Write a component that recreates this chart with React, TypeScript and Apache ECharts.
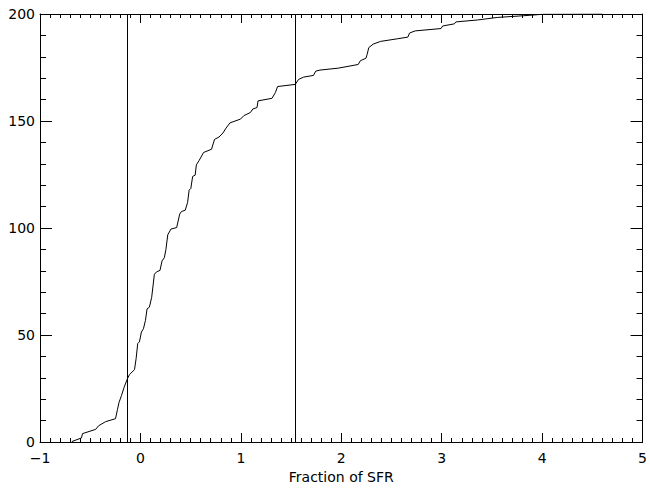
import React, { useEffect, useRef } from "react";
import * as echarts from "echarts";

const xValues = [
  -0.683, -0.587, -0.577, -0.446, -0.416, -0.347, -0.248, -0.228, -0.213, -0.188,
  -0.163, -0.129, -0.109, -0.059, -0.043, -0.027, -0.01, 0.01, 0.03, 0.05,
  0.066, 0.089, 0.112, 0.139, 0.161, 0.195, 0.215, 0.238, 0.254, 0.272,
  0.304, 0.361, 0.391, 0.409, 0.446, 0.47, 0.485, 0.502, 0.52, 0.545,
  0.557, 0.584, 0.629, 0.708, 0.738, 0.782, 0.822, 0.847, 0.891, 0.997,
  1.03, 1.096, 1.119, 1.161, 1.171, 1.31, 1.344, 1.366, 1.542, 1.574,
  1.624, 1.723, 1.746, 1.789, 1.97, 2.168, 2.191, 2.245, 2.257, 2.274,
  2.317, 2.391, 2.557, 2.663, 2.68, 2.736, 2.993, 3.01, 3.126, 3.141,
  3.356, 3.554, 3.818, 4.016, 4.6,
];
const yValues = [
  0.2, 1.9, 3.9, 5.9, 7.6, 9.5, 10.9, 15.3, 18.5, 21.8,
  25.5, 29.6, 31.5, 33.8, 38.9, 46, 46.8, 51.4, 52.9, 56.8,
  62.2, 63, 67.6, 78.4, 79.5, 80.2, 84.6, 86.1, 90, 96.8,
  99.5, 100.2, 106.5, 107.7, 108.3, 112, 117.7, 118.5, 124.1, 124.7,
  129.5, 131.5, 135.3, 136.8, 141.4, 142.5, 144.4, 146.3, 149.1, 150.9,
  152.5, 154, 155.6, 156.3, 159.4, 160.6, 163.3, 166.1, 167.1, 169.4,
  170.5, 171.3, 173.3, 173.8, 174.7, 176.4, 178.2, 179.3, 181, 184.3,
  185.9, 187.2, 188.4, 189.2, 191.1, 192.1, 193.2, 194.4, 195.4, 196.3,
  197.2, 198.4, 199.2, 199.9, 200,
];
const verticalLines = [-0.13, 1.545];
const xTitle = "Fraction of SFR";

export default function App() {
  const ref = useRef<HTMLDivElement>(null);
  useEffect(() => {
    if (!ref.current) return;
    const chart = echarts.init(ref.current, null, { renderer: "svg" });
    const font = "DejaVu Sans";
    const line = { color: "#000", width: 1 };
    const xAxisStyle = {
      axisLine: { show: true, onZero: false, lineStyle: line },
      axisTick: { show: true, inside: true, length: 9, lineStyle: line },
      minorTick: { show: true, splitNumber: 10, length: 4, lineStyle: line },
      splitLine: { show: false },
    };
    const yAxisStyle = {
      axisLine: { show: true, onZero: false, lineStyle: line },
      axisTick: { show: true, inside: true, length: 12, lineStyle: line },
      minorTick: { show: true, splitNumber: 5, length: 6, lineStyle: line },
      splitLine: { show: false },
    };
    chart.setOption({
      animation: false,
      backgroundColor: "#fff",
      grid: { left: 40, right: 2, top: 14, bottom: 43, containLabel: false },
      xAxis: [
        {
          type: "value",
          position: "bottom",
          min: -1,
          max: 5,
          interval: 1,
          ...xAxisStyle,
          axisLabel: {
            color: "#000",
            fontFamily: font,
            fontSize: 14,
            margin: 9,
            formatter: (v: number) => String(v).replace("-", "\u2212"),
          },
          name: xTitle,
          nameLocation: "middle",
          nameGap: 28,
          nameTextStyle: { color: "#000", fontFamily: font, fontSize: 14 },
        },
        {
          type: "value",
          position: "top",
          min: -1,
          max: 5,
          interval: 1,
          ...xAxisStyle,
          axisLabel: { show: false },
        },
      ],
      yAxis: [
        {
          type: "value",
          position: "left",
          min: 0,
          max: 200,
          interval: 50,
          ...yAxisStyle,
          axisLabel: { color: "#000", fontFamily: font, fontSize: 14, margin: 5 },
        },
        {
          type: "value",
          position: "right",
          min: 0,
          max: 200,
          interval: 50,
          ...yAxisStyle,
          axisLabel: { show: false },
        },
      ],
      series: [
        {
          type: "line",
          xAxisIndex: 0,
          yAxisIndex: 0,
          data: xValues.map((x, i) => [x, yValues[i]]),
          showSymbol: false,
          symbol: "none",
          lineStyle: { color: "#000", width: 1 },
          silent: true,
          markLine: {
            silent: true,
            symbol: ["none", "none"],
            label: { show: false },
            lineStyle: { color: "#000", width: 1, type: "solid" },
            data: verticalLines.map((v) => ({ xAxis: v })),
          },
        },
      ],
    });
    return () => chart.dispose();
  }, []);
  return (
    <div
      ref={ref}
      style={{ position: "absolute", left: 0, top: 0, width: 650, height: 489 }}
    />
  );
}
